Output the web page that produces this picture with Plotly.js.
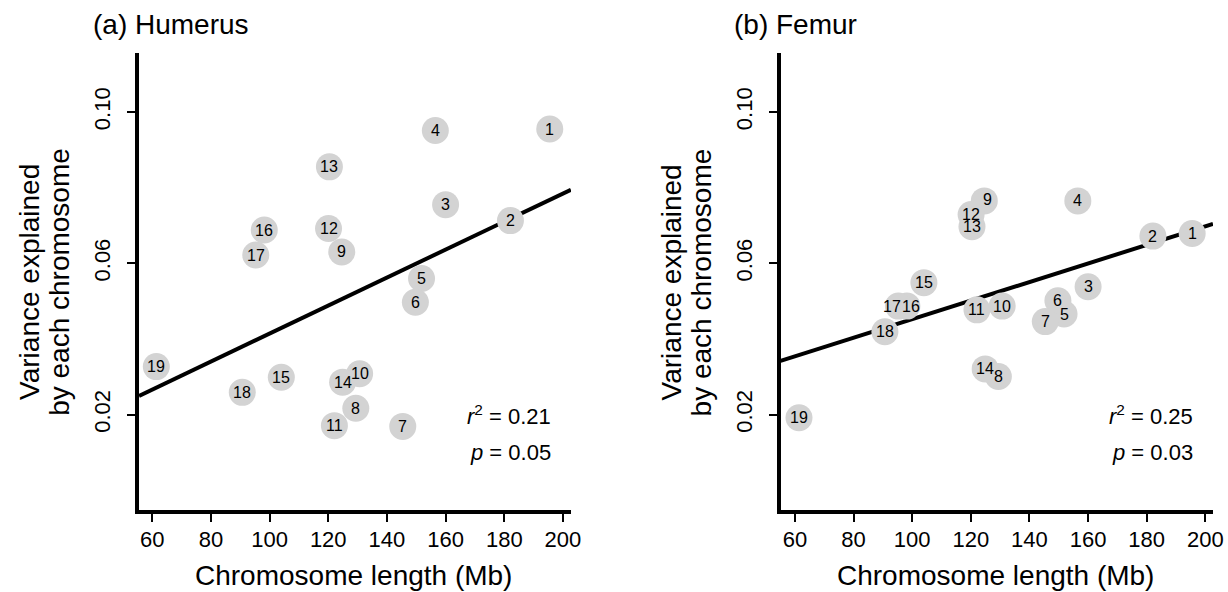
<!DOCTYPE html>
<html>
<head>
<meta charset="utf-8">
<script src="https://cdn.plot.ly/plotly-3.0.1.min.js"></script>
<style>html,body{margin:0;padding:0;background:#fff;}#chart{width:1228px;height:592px;}</style>
</head>
<body>
<div id="chart"></div>
<script>
// ---- data ----
const chromosomes = ['1','2','3','4','5','6','7','8','9','10','11','12','13','14','15','16','17','18','19'];
const lengthMb = [195.5,182.1,160.0,156.5,151.8,149.7,145.4,129.4,124.6,130.7,122.1,120.1,120.4,124.9,104.0,98.2,95.3,90.7,61.4];
const humerusVar = [0.0955,0.0713,0.0755,0.0951,0.0560,0.0497,0.0169,0.0217,0.0630,0.0308,0.0171,0.0692,0.0855,0.0286,0.0299,0.0688,0.0622,0.0259,0.0327];
const femurVar = [0.0679,0.0672,0.0538,0.0765,0.0466,0.0501,0.0446,0.0301,0.0765,0.0487,0.0477,0.0729,0.0697,0.0321,0.0549,0.0487,0.0487,0.0419,0.0192];
const xTickVals = [60,80,100,120,140,160,180,200];
const yTickVals = [0.02,0.06,0.10];
const yTickText = ['0.02','0.06','0.10'];
const panelTitles = ['(a) Humerus','(b) Femur'];
const statsR2 = ['0.21','0.25'];
const statsP = ['0.05','0.03'];
const xTitle = 'Chromosome length (Mb)';
const yTitle1 = 'Variance explained';
const yTitle2 = 'by each chromosome';

// ---- styling: small pixel nudges of crowded point labels (per panel) ----
const labelNudge = [{}, {'17':[-6,0], '16':[4,0], '9':[3,-1]}];

// ---- layout geometry ----
const W = 1228, H = 592;
const M = {l:138.5, r:14.7, t:52.7, b:82.3};
const PW = W - M.l - M.r, PH = H - M.t - M.b;
const px = v => (v - M.l) / PW;
const py = v => 1 - (v - M.t) / PH;
const xRanges = [[55.5, 202.7],[55.1, 202.6]];
const yRange = [-0.0052, 0.1156];
const FONT = 'Liberation Sans, Arial, Helvetica, sans-serif';

function fit(x, y){
  const n = x.length;
  const mx = x.reduce((a,b)=>a+b,0)/n, my = y.reduce((a,b)=>a+b,0)/n;
  let sxy=0, sxx=0;
  for(let i=0;i<n;i++){ sxy += (x[i]-mx)*(y[i]-my); sxx += (x[i]-mx)*(x[i]-mx); }
  const b = sxy/sxx; return {a: my - b*mx, b: b};
}

const series = [humerusVar, femurVar];
const traces = [];
const annotations = [];
series.forEach((ys, k) => {
  const f = fit(lengthMb, ys);
  const xr = xRanges[k];
  const xa = k===0 ? 'x' : 'x2', ya = k===0 ? 'y' : 'y2';
  traces.push({x: xr, y: xr.map(v => f.a + f.b*v), mode:'lines', xaxis:xa, yaxis:ya,
    line:{color:'#000', width:4}, hoverinfo:'skip', showlegend:false});
  traces.push({x: lengthMb, y: ys, text: chromosomes, mode:'markers', xaxis:xa, yaxis:ya,
    marker:{size:27, color:'#d3d3d3', line:{width:0}}, showlegend:false});
  chromosomes.forEach((c, i) => {
    const nd = labelNudge[k][c] || [0,0];
    annotations.push({xref:xa, yref:ya, x:lengthMb[i], y:ys[i], text:c, showarrow:false,
      xanchor:'center', yanchor:'middle', xshift:nd[0], yshift:-nd[1],
      font:{family:FONT, size:16, color:'#000'}});
  });
});

const axisCommon = {
  showgrid:false, zeroline:false, showline:true, linecolor:'#000', linewidth:4,
  ticks:'outside', ticklen:8, tickwidth:2, tickcolor:'#000',
  tickfont:{family:FONT, size:22, color:'#000'}
};
const xaxisBase = Object.assign({}, axisCommon, {tickmode:'array', tickvals:xTickVals, ticktext:xTickVals.map(String), ticklabelstandoff:-1});
const yaxisBase = Object.assign({}, axisCommon, {tickmode:'array', tickvals:yTickVals, ticktext:yTickText, tickangle:-90, range:yRange, ticklabelstandoff:8});

const axisLeftPx = [136.5, 778.5];
const axisRightPx = [570.7, 1213.3];
for (let k=0;k<2;k++){
  const ax = axisLeftPx[k];
  annotations.push({xref:'paper', yref:'paper', x:px(ax-46.5), y:py(24), xanchor:'left', yanchor:'middle',
    text:panelTitles[k], showarrow:false, font:{family:FONT, size:28, color:'#000'}});
  annotations.push({xref:'paper', yref:'paper', x:px(ax-107.5), y:py(282), xanchor:'center', yanchor:'middle',
    textangle:-90, text:yTitle1, showarrow:false, font:{family:FONT, size:28, color:'#000'}});
  annotations.push({xref:'paper', yref:'paper', x:px(ax-77.5), y:py(282), xanchor:'center', yanchor:'middle',
    textangle:-90, text:yTitle2, showarrow:false, font:{family:FONT, size:28, color:'#000'}});
  annotations.push({xref:'paper', yref:'paper', x:px((ax+axisRightPx[k])/2), y:py(575.3), xanchor:'center', yanchor:'middle',
    text:xTitle, showarrow:false, font:{family:FONT, size:28, color:'#000'}});
  annotations.push({xref:'paper', yref:'paper', x:px(axisRightPx[k]-18), y:py(415), xanchor:'right', yanchor:'middle',
    text:'<i>r</i><sup>2</sup> = '+statsR2[k], showarrow:false, font:{family:FONT, size:22, color:'#000'}});
  annotations.push({xref:'paper', yref:'paper', x:px(axisRightPx[k]-18), y:py(452), xanchor:'right', yanchor:'middle',
    text:'<i>p</i> = '+statsP[k], showarrow:false, font:{family:FONT, size:22, color:'#000'}});
}

const layout = {
  width:W, height:H, margin:{l:M.l, r:M.r, t:M.t, b:M.b, pad:0},
  paper_bgcolor:'#fff', plot_bgcolor:'#fff', showlegend:false,
  font:{family:FONT, color:'#000'},
  xaxis: Object.assign({}, xaxisBase, {domain:[0, px(570.7)], range:xRanges[0], anchor:'y'}),
  yaxis: Object.assign({}, yaxisBase, {domain:[0,1], anchor:'x'}),
  xaxis2: Object.assign({}, xaxisBase, {domain:[px(780.5), 1], range:xRanges[1], anchor:'y2'}),
  yaxis2: Object.assign({}, yaxisBase, {domain:[0,1], anchor:'x2'}),
  annotations: annotations
};

Plotly.newPlot('chart', traces, layout, {displayModeBar:false, staticPlot:true});
</script>
</body>
</html>
